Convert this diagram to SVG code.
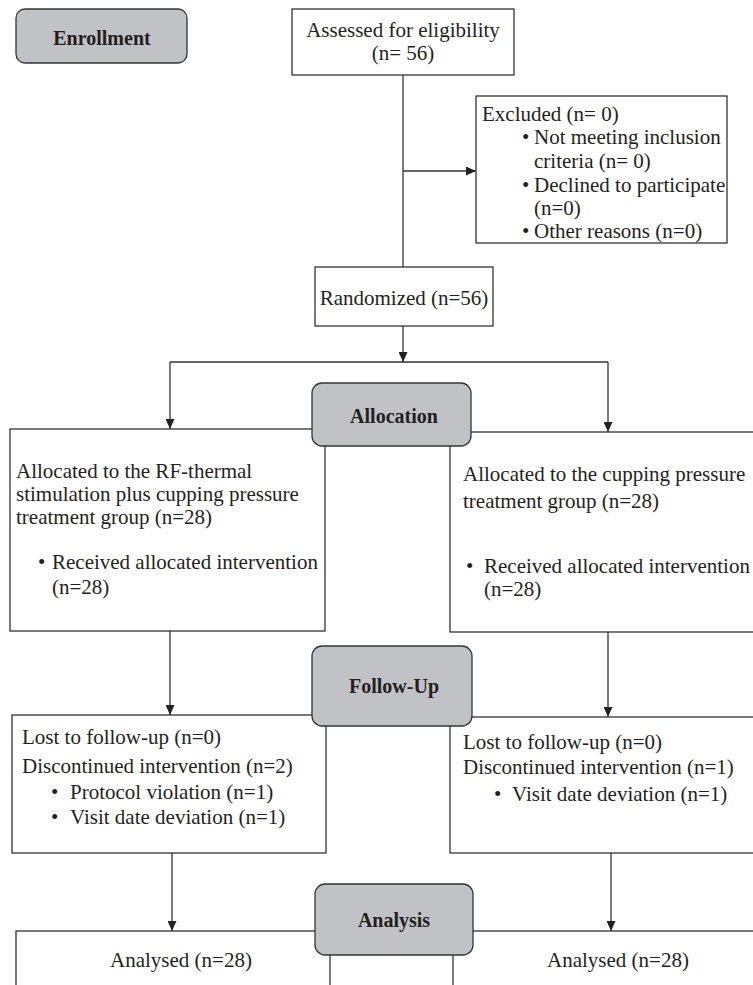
<svg xmlns="http://www.w3.org/2000/svg" width="753" height="985" viewBox="0 0 753 985">
<style>
.box{fill:#ffffff;stroke:#333333;stroke-width:1.3}
.stage{fill:#c1c2c5;stroke:#333333;stroke-width:1.3}
.t{font-family:"Liberation Serif","Times New Roman",serif;font-size:21px;fill:#231f20}
.b{font-family:"Liberation Serif","Times New Roman",serif;font-size:20px;font-weight:bold;fill:#231f20;text-anchor:middle}
.c{text-anchor:middle}
.ln{fill:none;stroke:#333333;stroke-width:1.3}
</style>
<defs>
<marker id="ah" markerUnits="userSpaceOnUse" markerWidth="10" markerHeight="9" refX="10" refY="4.5" orient="auto">
<path d="M0,0 L10,4.5 L0,9 z" fill="#222222"/>
</marker>
</defs>
<rect width="753" height="985" fill="#ffffff"/>
<g id="connectors">
<line class="ln" x1="403" y1="75" x2="403" y2="267"/>
<line class="ln" x1="403" y1="171" x2="476" y2="171" marker-end="url(#ah)"/>
<line class="ln" x1="403" y1="326" x2="403" y2="362" marker-end="url(#ah)"/>
<line class="ln" x1="170" y1="362" x2="608" y2="362"/>
<line class="ln" x1="170" y1="362" x2="170" y2="429" marker-end="url(#ah)"/>
<line class="ln" x1="608" y1="362" x2="608" y2="432" marker-end="url(#ah)"/>
<line class="ln" x1="170" y1="631" x2="170" y2="715" marker-end="url(#ah)"/>
<line class="ln" x1="608" y1="632" x2="608" y2="717" marker-end="url(#ah)"/>
<line class="ln" x1="172" y1="853" x2="172" y2="931" marker-end="url(#ah)"/>
<line class="ln" x1="611" y1="853" x2="611" y2="931" marker-end="url(#ah)"/>
</g>
<g id="assessed">
<rect class="box" x="292" y="9" width="222" height="66"/>
<text class="t c"><tspan x="403" y="37">Assessed for eligibility</tspan><tspan x="403" y="60">(n= 56)</tspan></text>
</g>
<g id="excluded">
<rect class="box" x="476" y="96" width="251" height="147"/>
<text class="t"><tspan x="482" y="121">Excluded (n= 0)</tspan><tspan x="522" y="144">•</tspan><tspan x="534" y="144">Not meeting inclusion</tspan><tspan x="534" y="168">criteria (n= 0)</tspan><tspan x="522" y="192">•</tspan><tspan x="534" y="192">Declined to participate</tspan><tspan x="534" y="215">(n=0)</tspan><tspan x="522" y="238">•</tspan><tspan x="534" y="238">Other reasons (n=0)</tspan></text>
</g>
<g id="randomized">
<rect class="box" x="315" y="267" width="178" height="59"/>
<text class="t c" x="404" y="305">Randomized (n=56)</text>
</g>
<g id="alloc-left">
<rect class="box" x="10" y="429" width="315" height="202"/>
<text class="t"><tspan x="16" y="478">Allocated to the RF-thermal</tspan><tspan x="16" y="501">stimulation plus cupping pressure</tspan><tspan x="16" y="524">treatment group (n=28)</tspan><tspan x="38" y="569">•</tspan><tspan x="52" y="569">Received allocated intervention</tspan><tspan x="52" y="594">(n=28)</tspan></text>
</g>
<g id="alloc-right">
<rect class="box" x="450" y="432" width="310" height="200"/>
<text class="t"><tspan x="463" y="481">Allocated to the cupping pressure</tspan><tspan x="463" y="508">treatment group (n=28)</tspan><tspan x="466" y="573">•</tspan><tspan x="484" y="573">Received allocated intervention</tspan><tspan x="484" y="596">(n=28)</tspan></text>
</g>
<g id="follow-left">
<rect class="box" x="12" y="715" width="314" height="138"/>
<text class="t"><tspan x="22" y="744">Lost to follow-up (n=0)</tspan><tspan x="22" y="773">Discontinued intervention (n=2)</tspan><tspan x="51" y="799">•</tspan><tspan x="70" y="799">Protocol violation (n=1)</tspan><tspan x="51" y="824">•</tspan><tspan x="70" y="824">Visit date deviation (n=1)</tspan></text>
</g>
<g id="follow-right">
<rect class="box" x="450" y="717" width="310" height="136"/>
<text class="t"><tspan x="463" y="749">Lost to follow-up (n=0)</tspan><tspan x="463" y="774">Discontinued intervention (n=1)</tspan><tspan x="494" y="801">•</tspan><tspan x="512" y="801">Visit date deviation (n=1)</tspan></text>
</g>
<g id="analysed-left">
<rect class="box" x="16" y="931" width="314" height="80"/>
<text class="t c" x="181" y="967">Analysed (n=28)</text>
</g>
<g id="analysed-right">
<rect class="box" x="453" y="931" width="310" height="80"/>
<text class="t c" x="618" y="967">Analysed (n=28)</text>
</g>
<g id="enrollment">
<rect class="stage" x="16" y="9" width="171" height="54" rx="9"/>
<text class="b" x="102" y="45">Enrollment</text>
</g>
<g id="allocation">
<rect class="stage" x="312" y="383" width="159" height="63" rx="10"/>
<text class="b" x="394" y="423">Allocation</text>
</g>
<g id="follow-up">
<rect class="stage" x="312" y="646" width="160" height="80" rx="10"/>
<text class="b" x="394" y="693">Follow-Up</text>
</g>
<g id="analysis">
<rect class="stage" x="315" y="884" width="158" height="71" rx="10"/>
<text class="b" x="394" y="927">Analysis</text>
</g>
</svg>
